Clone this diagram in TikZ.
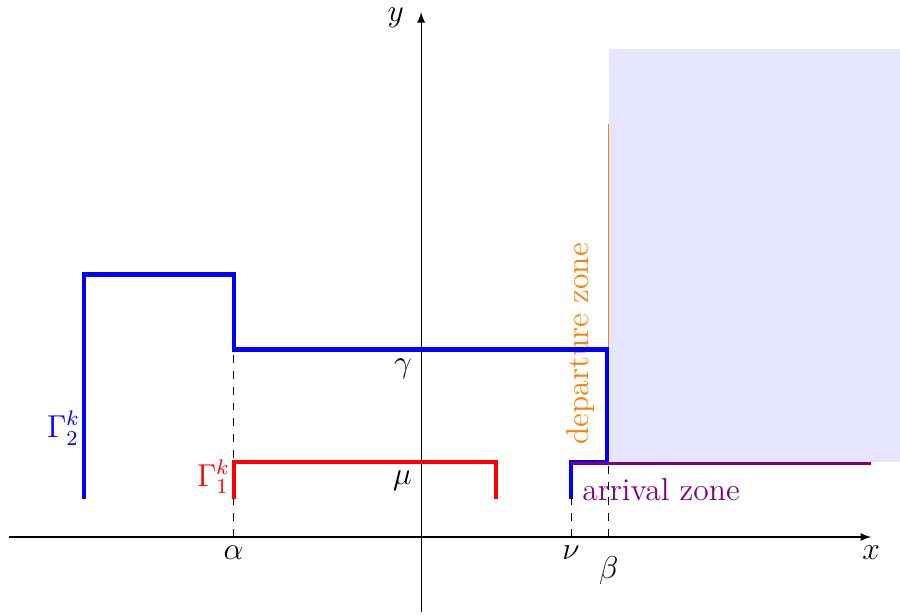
\documentclass[tikz,border=0pt]{standalone}
\usepackage{amsmath}
\definecolor{zonepurple}{RGB}{128,0,128}

\begin{document}
\begin{tikzpicture}[
    x=0.5cm, y=0.5cm,
    axis/.style={-latex, thin},
    guide/.style={dashed, thin},
    curve/.style={ultra thick, line join=miter},
    curvelabel/.style={anchor=east, inner sep=0.5pt},
    every node/.style={font=\large}
]
\useasboundingbox (-11.23,-2.08) rectangle (12.77,14.32);

% ==================== ZONES ====================
\fill[blue!10] (5,2) rectangle (12.8,13);
\draw[orange, thin] (5,2) -- (5,11);
\node[orange, rotate=90] (depart) at (4.25,5.15) {departure zone};

% ==================== AXES ====================
\coordinate (O) at (0,0);
\draw[axis] (-11,0) -- (12,0) node[below] (xlab) {$x$};
\draw[axis] (0,-2) -- (0,14) node[left=3pt, pos=0.99] (ylab) {$y$};

% ==================== GUIDES ====================
\draw[guide] (-5,0) -- (-5,5);
\draw[guide] (4,0) -- (4,1);
\draw[guide] (5,0) -- (5,2);
\node[below] (alpha) at (-5,0) {$\alpha$};
\node[below] (nu) at (4,0) {$\nu$};
\node[below=4pt] (beta) at (5,0) {$\beta$};

% ==================== CURVES ====================
% Gamma_2
\draw[curve, blue] (-9,1) -- (-9,7) -- (-5,7) -- (-5,5) -- (4.95,5) -- (4.95,2) -- (4,2) -- (4,1);
\node[curvelabel, blue] (G2) at (-9.05,2.9) {$\Gamma_2^k$};
\node[below left] (gamma) at (0,5) {$\gamma$};

% Gamma_1
\draw[curve, red] (-5,1) -- (-5,2) -- (2,2) -- (2,1);
\node[curvelabel, red] (G1) at (-5.05,1.6) {$\Gamma_1^k$};
\node[below left] (mu) at (0,2) {$\mu$};

% arrival zone
\draw[zonepurple, very thick] (4,1.95) -- (12,1.95);
\node[zonepurple] (arrive) at (6.4,1.25) {arrival zone};

\end{tikzpicture}
\end{document}
